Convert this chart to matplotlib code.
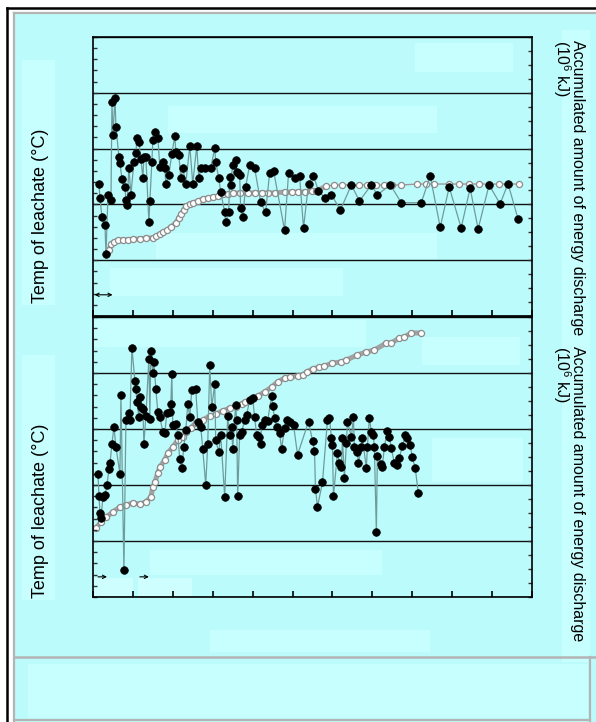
import matplotlib
matplotlib.use('Agg')
import matplotlib.pyplot as plt
from matplotlib.patches import Rectangle
from matplotlib.lines import Line2D
from matplotlib.ticker import MultipleLocator

plt.rcParams['font.family'] = ['Liberation Sans', 'DejaVu Sans']
plt.rcParams['mathtext.fontset'] = 'custom'
plt.rcParams['mathtext.rm'] = 'Liberation Sans'
plt.rcParams['mathtext.it'] = 'Liberation Sans:italic'

# ---------------- data ----------------
# upper panel : temperature of leachate
days_t1 = [3, 3.5, 4.5, 6, 6.5, 7.5, 9, 9.5, 10, 11,
           11.5, 13, 13.5, 14.5, 16, 16.5, 17, 18, 19, 20.5,
           21.5, 22, 23, 24, 25, 25.5, 26.5, 28, 28.5, 29.5,
           30, 31, 32.5, 33.5, 35, 36, 36.5, 38, 39.5, 41,
           41.5, 43, 44, 45, 46.5, 48.5, 50, 52, 53, 54,
           56, 59, 61, 61.5, 63, 64, 66, 66.5, 68, 68.5,
           69, 70, 71.5, 72, 72.5, 73.5, 74, 75, 76.5, 78.5,
           81, 84, 86.5, 88.5, 90.5, 96, 98, 101, 103.5, 105.5,
           108, 110.5, 113, 116.5, 119.5, 124, 129.5, 133.5, 139.5, 142.5,
           149, 154.5, 164.5, 169, 174, 178.5, 184.5, 189, 193, 198.5,
           204, 208, 213]
temp1 = [23.7, 21.1, 17.7, 16.3, 11.1, 21.7, 20.8, 38.4, 32.4, 39.1,
         33.9, 28.5, 27.4, 24.6, 23.1, 20.8, 19.9, 26.5, 21.7, 27.6,
         29.2, 31.9, 31.2, 28.1, 24.7, 28.5, 28.5, 16.8, 20.6, 27.6,
         31.5, 33.0, 31.9, 26.7, 27.6, 26.5, 23.7, 25.3, 29.0, 32.3,
         29.4, 28.9, 24.7, 26.5, 23.7, 30.5, 23.7, 30.5, 24.7, 26.5,
         26.5, 26.5, 30.1, 27.6, 24.7, 22.2, 18.6, 16.8, 18.6, 24.9,
         23.5, 27.1, 28.0, 25.8, 25.6, 25.3, 19.4, 17.7, 23.1, 27.1,
         26.5, 20.4, 18.6, 25.6, 26.0, 15.4, 25.6, 24.7, 25.1, 15.8,
         23.7, 25.1, 22.4, 21.1, 21.7, 19.0, 23.5, 20.6, 23.5, 21.7,
         23.5, 20.3, 20.3, 25.1, 15.9, 23.1, 15.8, 22.9, 15.6, 23.5,
         20.1, 23.7, 17.4]

# upper panel : accumulated energy discharge (10^6 kJ)
days_e1 = [8, 9, 10.5, 12.5, 15, 17.5, 20, 23.5, 26.5, 30,
           31.5, 33.5, 35, 37, 39, 41.5, 43, 44, 45.5, 46.5,
           48.5, 50, 52.5, 55, 57.5, 60, 62.5, 65, 67.5, 70,
           73.5, 77.5, 81, 84.5, 87.5, 91, 96, 99.5, 102.5, 106,
           109.5, 112, 117, 121, 125, 129.5, 133.5, 137.5, 142, 146,
           150, 154.5, 162.5, 167, 171, 178.5, 183.5, 188.5, 193.5, 198.5,
           203.5, 208.5, 213.5]
heat1 = [4.73, 5.16, 5.30, 5.45, 5.45, 5.45, 5.52, 5.52, 5.59, 5.59,
         5.73, 5.88, 6.02, 6.16, 6.38, 6.67, 7.03, 7.31, 7.60, 7.89,
         8.03, 8.10, 8.24, 8.39, 8.46, 8.53, 8.60, 8.75, 8.75, 8.82,
         8.82, 8.82, 8.82, 8.82, 8.82, 8.82, 8.89, 8.89, 8.89, 8.89,
         8.96, 8.96, 9.32, 9.39, 9.39, 9.39, 9.39, 9.39, 9.39, 9.39,
         9.39, 9.39, 9.46, 9.46, 9.46, 9.46, 9.46, 9.46, 9.46, 9.46,
         9.46, 9.46, 9.46]
dense1 = 43          # daily readings up to here, sparse ones after

# lower panel : temperature of leachate
days_t2 = [2.5, 3, 3.5, 4, 5, 6, 7, 8, 8.5, 9.5,
           10.5, 11.5, 13.5, 14, 15.5, 16.5, 18, 18.5, 19.5, 21,
           21.5, 22, 23, 23.5, 24, 25, 25.5, 26.5, 28, 28.5,
           29, 30, 30.5, 31.5, 32.5, 33.5, 35, 36, 37, 38.5,
           39, 39.5, 40, 41.5, 42.5, 43.5, 44.5, 45.5, 46.5, 47.5,
           48.5, 49.5, 51.5, 52.5, 54, 55, 56.5, 57.5, 58.5, 59.5,
           61, 61.5, 63, 64, 66, 67.5, 68.5, 69.5, 70, 71.5,
           72, 72.5, 73.5, 74.5, 76, 77, 78.5, 80, 81, 82,
           83, 84, 84.5, 86, 87.5, 89.5, 90, 91, 92, 93.5,
           94.5, 96, 97, 98.5, 100.5, 102.5, 108, 110, 111, 111.5,
           112.5, 115, 117.5, 118.5, 119.5, 120, 120.5, 122.5, 123.5, 124.5,
           125, 126, 127, 127.5, 129.5, 130.5, 131, 132.5, 133, 134.5,
           135, 137, 137.5, 138.5, 139.5, 140.5, 141, 142, 142.5, 144.5,
           145, 146, 147.5, 148.5, 149.5, 151, 152.5, 153.5, 155, 156.5,
           157.5, 159, 160, 161.5, 163]
temp2 = [22.0, 18.0, 15.0, 14.1, 17.9, 18.2, 20.0, 22.9, 23.9, 27.3,
         30.4, 26.8, 22.0, 36.1, 4.8, 31.6, 32.9, 31.6, 44.5, 38.6,
         37.1, 34.8, 32.1, 35.7, 33.9, 33.6, 27.3, 32.3, 42.5, 31.8,
         43.9, 40.0, 42.0, 37.1, 33.0, 32.1, 29.5, 29.3, 32.9, 33.0,
         34.5, 39.8, 30.7, 30.9, 28.9, 24.6, 23.0, 26.8, 29.8, 34.5,
         32.1, 37.0, 37.1, 31.3, 30.4, 26.4, 20.0, 27.3, 41.4, 33.9,
         38.0, 28.0, 25.9, 28.9, 17.9, 32.3, 28.9, 30.4, 26.4, 34.3,
         31.6, 18.0, 28.9, 29.5, 31.6, 32.5, 35.2, 35.5, 32.1, 28.9,
         28.6, 27.3, 30.7, 31.6, 31.4, 35.9, 34.1, 32.0, 30.4, 29.3,
         26.4, 30.2, 31.6, 31.3, 30.7, 25.4, 31.3, 27.9, 26.1, 19.3,
         16.1, 20.5, 31.6, 32.0, 28.4, 27.1, 18.0, 25.7, 23.9, 23.2,
         28.4, 21.3, 27.5, 31.3, 28.6, 32.1, 26.8, 25.9, 23.9, 26.8,
         28.4, 23.0, 26.8, 32.0, 29.5, 28.9, 26.8, 11.6, 25.2, 23.8,
         23.2, 26.8, 29.6, 28.6, 26.6, 23.9, 23.6, 24.8, 27.0, 28.9,
         28.4, 27.1, 25.0, 23.0, 18.6]

# lower panel : accumulated energy discharge (10^6 kJ)
days_e2 = [1.5, 4, 6.5, 10, 13.5, 16.5, 20, 23.5, 26.5, 29,
           30, 31, 32.5, 33.5, 36, 37.5, 40, 42.5, 45, 46.5,
           49, 51.5, 55, 58.5, 61.5, 65, 68.5, 71.5, 74.5, 76,
           79.5, 82.5, 86, 89.5, 92.5, 96, 98.5, 102.5, 105, 107,
           110, 113.5, 116, 120, 124.5, 127, 132.5, 137, 141, 147,
           149.5, 153.5, 156, 159.5, 164.5]
heat2 = [4.93, 5.36, 5.71, 6.07, 6.43, 6.57, 6.71, 6.64, 6.79, 7.14,
         7.86, 8.21, 8.86, 9.29, 9.79, 10.29, 10.71, 11.21, 11.43, 11.79,
         12.07, 12.43, 12.64, 12.93, 13.07, 13.29, 13.50, 13.57, 13.79, 13.93,
         14.21, 14.36, 14.64, 15.00, 15.36, 15.64, 15.71, 15.79, 15.86, 16.07,
         16.29, 16.43, 16.50, 16.71, 16.79, 16.93, 17.29, 17.50, 17.64, 18.14,
         18.14, 18.50, 18.57, 18.86, 18.86]
dense2 = len(days_e2)

temp_label = 'Temp of leachate (°C)'
heat_label = 'Accumulated amount of energy discharge\n(10$^6$ kJ)'

# ---------------- figure ----------------
W, H = 596, 722
BG = '#bcfbfb'
LIGHT = '#c7fefe'

fig = plt.figure(figsize=(W / 100, H / 100), dpi=100, facecolor='white')


def box(x0, y0, x1, y1, fc, ec='none', lw=0, z=-5):
    # rectangle given in pixels from the top-left corner
    fig.add_artist(Rectangle((x0 / W, 1 - y1 / H), (x1 - x0) / W, (y1 - y0) / H,
                             transform=fig.transFigure, facecolor=fc,
                             edgecolor=ec, linewidth=lw, zorder=z))


def hline(x0, x1, y, color, lw):
    fig.add_artist(Line2D([x0 / W, x1 / W], [1 - y / H, 1 - y / H],
                          transform=fig.transFigure, color=color, lw=lw, zorder=-3))


def vline(x, y0, y1, color, lw):
    fig.add_artist(Line2D([x / W, x / W], [1 - y0 / H, 1 - y1 / H],
                          transform=fig.transFigure, color=color, lw=lw, zorder=-3))


# frame and background
box(14, 13, 596, 722, BG)
hline(7, 596, 8, 'black', 1.8)
vline(7, 8, 722, 'black', 1.8)
hline(14, 596, 13, '#b4b4b4', 1.6)
vline(14, 13, 722, '#b4b4b4', 1.6)
hline(14, 596, 657, '#b4b4b4', 1.8)
vline(590, 657, 721, '#b4b4b4', 1.6)
hline(14, 590, 720, '#b4b4b4', 1.6)

# faint lighter blocks
for b in [(22, 60, 55, 305), (22, 355, 55, 600), (415, 43, 513, 72),
          (168, 106, 437, 133), (156, 233, 437, 259), (110, 268, 343, 296),
          (93, 320, 366, 347), (422, 337, 520, 365), (432, 438, 523, 482),
          (150, 550, 382, 575), (210, 630, 430, 652), (562, 30, 590, 662),
          (28, 664, 588, 718)]:
    box(*b, LIGHT, z=-4)
box(94, 578, 133, 596, '#cffefe', z=-4)
box(138, 578, 192, 596, '#cffefe', z=-4)

L, R = 93 / W, 532 / W
panels = [
    (fig.add_axes([L, 1 - 316 / H, R - L, 279 / H]), days_t1, temp1, days_e1, heat1, dense1),
    (fig.add_axes([L, 1 - 597 / H, R - L, 280 / H]), days_t2, temp2, days_e2, heat2, dense2),
]

for ax, dt, tt, de, ee, nd in panels:
    ax2 = ax.twinx()
    ax.set_zorder(3)
    ax2.set_zorder(2)
    ax.patch.set_visible(False)

    ax.set_xlim(0, 220)
    ax.set_ylim(0, 50)
    ax2.set_ylim(0, 20)
    ax.xaxis.set_major_locator(MultipleLocator(20))
    ax.yaxis.set_major_locator(MultipleLocator(10))
    ax.yaxis.set_minor_locator(MultipleLocator(2))
    ax2.yaxis.set_major_locator(MultipleLocator(4))
    ax2.yaxis.set_minor_locator(MultipleLocator(1))

    ax2.grid(axis='y', which='major', color='#111111', lw=1.0)

    ax.tick_params(axis='both', which='both', direction='in', labelleft=False,
                   labelbottom=False, top=False, right=False, color='#333333')
    ax.tick_params(axis='y', which='major', length=3, width=1)
    ax.tick_params(axis='y', which='minor', length=3, width=1)
    ax.tick_params(axis='x', which='major', length=4, width=1.2, color='black')
    ax2.tick_params(axis='y', which='both', direction='in', labelright=False,
                    length=3, width=1, color='#333333')

    for sp in ax.spines.values():
        sp.set_linewidth(1.2)
        sp.set_color('black')
    for sp in ax2.spines.values():
        sp.set_visible(False)

    # energy: grey "rope" where readings are daily, thin line where sparse
    ax2.plot(de, ee, '-', color='#9a9a9a', lw=1.0, zorder=3)
    ax2.plot(de[:nd], ee[:nd], '-', color='#a2a2a2', lw=3.6,
             solid_capstyle='round', zorder=3)
    ax2.plot(de, ee, 'o', ms=4.4, mfc='white', mec='#8c8c8c', mew=0.9, zorder=4)

    ax.plot(dt, tt, '-', color='#6e9c9c', lw=0.9, zorder=4)
    ax.plot(dt, tt, 'o', ms=5.5, mfc='black', mec='black', mew=0.5, zorder=5)

# small leftover arrows near the bottom of each panel
panels[0][0].annotate('', xy=(0.8, 3.8), xytext=(9.8, 3.8),
                      arrowprops=dict(arrowstyle='<->', lw=0.8, color='black',
                                      mutation_scale=6, shrinkA=0, shrinkB=0))
panels[1][0].annotate('', xy=(2.5, 3.6), xytext=(7, 3.6),
                      arrowprops=dict(arrowstyle='<-', lw=0.8, color='black',
                                      mutation_scale=6, shrinkA=0, shrinkB=0))
panels[1][0].annotate('', xy=(23.5, 3.6), xytext=(28, 3.6),
                      arrowprops=dict(arrowstyle='<-', lw=0.8, color='black',
                                      mutation_scale=6, shrinkA=0, shrinkB=0))

# axis titles
for yc in (216, 511):
    fig.text(41 / W, 1 - yc / H, temp_label, rotation=90, ha='center', va='center',
             fontsize=13)
for yt in (40, 346):
    fig.text(568 / W, 1 - yt / H, heat_label, rotation=270, ha='center', va='top',
             multialignment='left', linespacing=0.85, fontsize=11.5)

fig.savefig('out.png', dpi=100, facecolor='white')
